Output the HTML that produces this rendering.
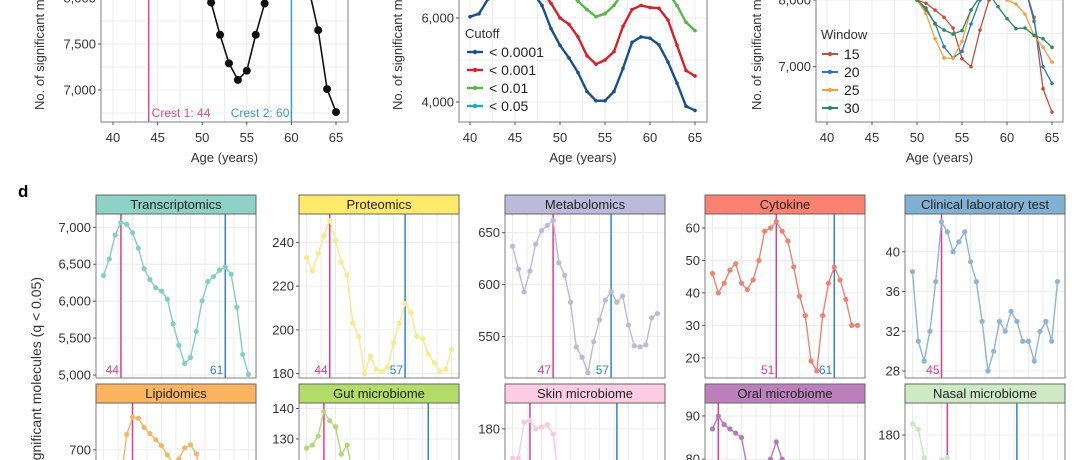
<!DOCTYPE html>
<html><head><meta charset="utf-8"><style>
html,body{margin:0;padding:0;background:#fff;width:1080px;height:460px;overflow:hidden;}
svg{display:block;font-family:"Liberation Sans",sans-serif;}
</style></head><body>
<svg id="fig" width="1080" height="460" viewBox="0 0 1080 460" xmlns="http://www.w3.org/2000/svg"></svg>
<script>
// ---------- data ----------
const ages = [40,41,42,43,44,45,46,47,48,49,50,51,52,53,54,55,56,57,58,59,60,61,62,63,64,65];
// panel a
const aValues = [8400,8380,8350,8300,8260,8230,8200,8150,8100,8070,8040,7950,7600,7290,7110,7210,7600,7940,8150,8300,8350,8250,8080,7650,7010,6760];
// panel b (cutoffs)
const bCutoffs = ['< 0.0001','< 0.001','< 0.01','< 0.05'];
const bS1 = [6030,6100,6450,6700,6800,6820,6750,6600,6300,5750,5350,5050,4700,4250,4030,4030,4250,4800,5420,5550,5520,5360,4950,4450,3900,3800];
const bS2 = [7000,7100,7300,7500,7400,7200,7000,6800,6650,6350,6000,5850,5550,5100,4900,5000,5200,5800,6200,6300,6250,6230,5950,5350,4750,4620];
const bS3 = [7800,7900,8000,8100,8000,7900,7700,7500,7200,7000,6800,6600,6400,6200,6030,6100,6300,6600,6900,7000,6900,6800,6600,6300,5900,5700];
const bS4 = [8800,8900,9000,9100,9000,8900,8700,8500,8200,8000,7800,7600,7400,7200,7000,7100,7300,7600,7900,8000,7900,7800,7600,7300,6900,6700];
// panel c (windows)
const cWindows = ['15','20','25','30'];
const cS1 = [8300,8300,8300,8300,8300,8250,8200,8150,8100,8050,8000,7950,7850,7740,7580,7120,7000,7550,8000,8200,8300,8300,8200,7740,6670,6320];
const cS2 = [8300,8300,8300,8300,8300,8250,8200,8150,8100,8050,8000,7850,7650,7300,7130,7230,7640,8000,8200,8300,8300,8300,8200,7680,7000,6750];
const cS3 = [8300,8300,8300,8300,8300,8250,8200,8150,8100,8050,8000,7800,7420,7130,7130,7380,7850,8050,8150,8100,8000,7940,7790,7470,7290,7070];
const cS4 = [8300,8300,8300,8300,8300,8250,8200,8150,8100,8050,8000,7880,7640,7550,7490,7540,7850,8050,8100,7900,7720,7570,7580,7470,7420,7290];
// panel d (omics)
const dNames = ['Transcriptomics','Proteomics','Metabolomics','Cytokine','Clinical laboratory test','Lipidomics','Gut microbiome','Skin microbiome','Oral microbiome','Nasal microbiome'];
const dTranscriptomics = [6347,6571,6895,7064,7041,6927,6717,6438,6292,6183,6137,6027,5694,5402,5155,5237,5589,6005,6265,6333,6420,6461,6365,5918,5279,5009];
const dProteomics = [233,227,235,243,250,241,231,225,203,197,180,188,182,181,183,194,203,212,208,197,196,189,185,181,182,191];
const dMetabolomics = [637,615,593,613,639,652,657,662,621,609,583,540,530,515,545,566,585,593,583,589,561,541,540,542,568,572];
const dCytokine = [46,40,43,47,49,43,41,44,50,59,60,62,59,56,48,39,33,19,16,33,43,48,44,38,30,30];
const dClinical = [38,31,29,32,37,43,42,40,41,42,39,37,33,28,30,33,32,34,33,31,31,29,32,33,31,37];
const dLipidomics = [600,610,630,640,730,764,762,744,732,720,708,690,674,682,704,710,692,640,620,610,600,605,610,600,590,595];
const dGut = [127,128,131,139,136,134,125,128,118,115,112,110,108,110,112,111,110,108,112,115,113,111,110,109,110,112];
const dSkin = [163,163,184,185,180,181,182.5,177,150,145,140,142,138,140,145,143,140,138,142,140,138,141,139,140,138,140];
const dOral = [87,90,88,87,86,85,78,76,75,77,80,84,80,76,74,73,72,74,75,73,72,71,72,73,72,71];
const dNasal = [186,183,168,160,158,167,168,150,145,140,142,138,140,139,141,140,138,139,140,141,139,140,138,139,140,138];
const dCrest1 = [43,44,47,51,45,45,43,43,41,46];
const dCrest1Label = ['44','44','47','51','45','','','','',''];
const dCrest2 = [61,57,57,61,null,null,61,58,null,58];
const dCrest2Label = ['61','57','57','61','','','','','',''];
const dYTicks = [[5000,5500,6000,6500,7000],[180,200,220,240],[550,600,650],[20,30,40,50,60],[28,32,36,40],[700],[130,140],[180],[80,90],[180]];
const xTicks = [40,45,50,55,60,65];

// ---------- helpers ----------
const NS='http://www.w3.org/2000/svg';
const svg=document.getElementById('fig');
function mk(tag,attrs,parent){const e=document.createElementNS(NS,tag);for(const k in attrs)e.setAttribute(k,attrs[k]);(parent||svg).appendChild(e);return e;}
function fmt(v){return v>=1000?v.toLocaleString('en-US'):String(v);}
let clipId=0;
function linScale(d0,d1,r0,r1){return v=>r0+(v-d0)*(r1-r0)/(d1-d0);}

function panel(p){
  const g=mk('g',{});
  
  
  const vb=p.vy1!==undefined?p.vy1:p.y1;
  const cid='c'+(clipId++);
  const cp=mk('clipPath',{id:cid},g);mk('rect',{x:p.x0,y:p.y0,width:p.x1-p.x0,height:vb-p.y0},cp);
  const plot=mk('g',{'clip-path':'url(#'+cid+')'},g);
  mk('rect',{x:p.x0,y:p.y0,width:p.x1-p.x0,height:vb-p.y0,fill:'#fff'},plot);
  p.xgrid.forEach(v=>{const x=p.sx(v);mk('line',{x1:x,x2:x,y1:p.y0,y2:vb,stroke:'#ececec','stroke-width':1},plot);});
  p.ygrid.forEach(v=>{const y=p.sy(v);mk('line',{x1:p.x0,x2:p.x1,y1:y,y2:y,stroke:'#ececec','stroke-width':1},plot);});
  return {g,plot};
}
function series(plot,xs,ys,sx,sy,color,r,w,name){
  const pts=xs.map((x,i)=>sx(x).toFixed(1)+','+sy(ys[i]).toFixed(1)).join(' ');
  const pl=mk('polyline',{points:pts,fill:'none',stroke:color,'stroke-width':w,'stroke-linejoin':'round'},plot);
  
  
  if(r>0)xs.forEach((x,i)=>{const c=mk('circle',{cx:sx(x),cy:sy(ys[i]),r:r,fill:color},plot);
    
    });
}
function frame(g,p){
  if(p.vy1!==undefined){
    mk('path',{d:'M'+p.x0+','+p.vy1+' V'+p.y0+' H'+p.x1+' V'+p.vy1,fill:'none',stroke:'#7f7f7f','stroke-width':1},g);
  } else mk('rect',{x:p.x0,y:p.y0,width:p.x1-p.x0,height:p.y1-p.y0,fill:'none',stroke:'#7f7f7f','stroke-width':1},g);
}
function yticks(g,p,ticks,fs){ticks.forEach(v=>{const y=p.sy(v);
  mk('line',{x1:p.x0-3,x2:p.x0,y1:y,y2:y,stroke:'#555'},g);
  const t=mk('text',{x:p.x0-5,y:y+4.5,'text-anchor':'end','font-size':fs,fill:'#333'},g);t.textContent=fmt(v);
  
  });}
function xticks(g,p,ticks){ticks.forEach(v=>{const x=p.sx(v);
  mk('line',{x1:x,x2:x,y1:p.y1,y2:p.y1+3,stroke:'#555'},g);
  const t=mk('text',{x:x,y:p.y1+20,'text-anchor':'middle','font-size':13,fill:'#333'},g);t.textContent=v;
  
  });}
function text(g,x,y,s,attrs,name){const t=mk('text',Object.assign({x:x,y:y},attrs),g);t.textContent=s;
  
  return t;}

// ---------- top panels ----------
function topPanel(cfg){
  const p={name:cfg.name,x0:cfg.x0,x1:cfg.x1,y0:0,y1:122,sx:linScale(40,65,cfg.x40,cfg.x65),sy:cfg.sy,xgrid:[40,45,50,55,60,65,42.5,47.5,52.5,57.5,62.5],ygrid:cfg.ygrid};
  const {g,plot}=panel(p);
  cfg.draw(plot,p);
  mk('path',{d:'M'+p.x0+',0 V'+p.y1+' H'+p.x1+' V0',fill:'none',stroke:'#7f7f7f','stroke-width':1},g);
  yticks(g,p,cfg.yt,13);xticks(g,p,xTicks);
  text(g,(p.x0+p.x1)/2,162,'Age (years)',{'text-anchor':'middle','font-size':13,fill:'#333'},'x-axis-title');
  text(g,0,0,'No. of significant molecules',{'font-size':13,fill:'#333',transform:'translate('+cfg.ylx+',110) rotate(-90)'},'y-axis-title');
  return {g,p};
}
// a
topPanel({name:'panel-a',x0:101,x1:348,x40:113,x65:336,sy:linScale(7000,7500,90,44),ygrid:[7000,7500,8000,6750,7250,7750],yt:[7000,7500,8000],ylx:44,
  draw:(plot,p)=>{
    const x1=p.sx(44),x2=p.sx(60);
    mk('line',{x1:x1,x2:x1,y1:p.y0,y2:p.y1,stroke:'#d94a8c','stroke-width':1.5},plot);
    mk('line',{x1:x2,x2:x2,y1:p.y0,y2:p.y1,stroke:'#3a9fbf','stroke-width':1.5},plot);
    text(plot,x1+3,p.y1-5,'Crest 1: 44',{'font-size':12,fill:'#d94a8c'},'crest-1-label');
    text(plot,x2-2,p.y1-5,'Crest 2: 60',{'font-size':12,fill:'#3a9fbf','text-anchor':'end'},'crest-2-label');
    series(plot,ages,aValues,p.sx,p.sy,'#111',4,1.6,'overall');
  }});
// b
const bColors=['#1b4f8a','#d9202a','#57b849','#1fa9bf'];
topPanel({name:'panel-b',x0:459,x1:707,x40:470,x65:695,sy:linScale(4000,6000,102,18),ygrid:[4000,6000,5000,3000,7000],yt:[4000,6000],ylx:402,
  draw:(plot,p)=>{
    [bS4,bS3,bS2,bS1].forEach((s,i)=>series(plot,ages,s,p.sx,p.sy,bColors[3-i],1.8,2.4,'cutoff-'+(3-i)));
    text(plot,465,38,'Cutoff',{'font-size':13,fill:'#333'},'legend-title');
    bCutoffs.forEach((c,i)=>{const y=52+i*18;
      mk('line',{x1:467,x2:483,y1:y,y2:y,stroke:bColors[i],'stroke-width':2.4},plot);
      mk('circle',{cx:475,cy:y,r:2.2,fill:bColors[i]},plot);
      text(plot,489,y+5,c,{'font-size':14,fill:'#222'},'legend-entry');});
  }});
// c
const cColors=['#c0503c','#2a7ab8','#f0a03c','#2e8a5a'];
topPanel({name:'panel-c',x0:816,x1:1063,x40:827,x65:1052,sy:linScale(7000,8000,66.7,0),ygrid:[7000,8000,7500,6500],yt:[7000,8000],ylx:761,
  draw:(plot,p)=>{
    [cS1,cS2,cS3,cS4].forEach((s,i)=>series(plot,ages,s,p.sx,p.sy,cColors[i],1.8,1.3,'window-'+cWindows[i]));
    text(plot,821,39,'Window',{'font-size':13,fill:'#333'},'legend-title');
    cWindows.forEach((c,i)=>{const y=54+i*18;
      mk('line',{x1:822,x2:838,y1:y,y2:y,stroke:cColors[i],'stroke-width':2},plot);
      mk('circle',{cx:830,cy:y,r:2.2,fill:cColors[i]},plot);
      text(plot,844,y+5,c,{'font-size':14,fill:'#222'},'legend-entry');});
  }});

// ---------- panel d ----------
text(svg,18,197,'d',{'font-size':17,'font-weight':'bold',fill:'#000'},'panel-d-label');
text(svg,0,0,'No. of significant molecules (q < 0.05)',{'font-size':14,fill:'#333','text-anchor':'end',transform:'translate(41,277) rotate(-90)'},'panel-d-y-axis-title');
const dData=[dTranscriptomics,dProteomics,dMetabolomics,dCytokine,dClinical,dLipidomics,dGut,dSkin,dOral,dNasal];
const dStrip=['#8ed1c6','#fde96a','#bcbadb','#fa806f','#80b1d3','#fbb45e','#b3dc68','#fbcce3','#bc81bc','#cdeac5'];
const dLine=['#86cfc0','#f7ec8a','#bdb9d8','#ef8273','#8fb5d2','#f3b665','#b5d978','#f6cbe0','#b37cb5','#cbe6c4'];
const dYDom=[[4960,7180],[178,253],[510,668],[13.8,64.3],[27.3,43.8],[470,792],[88,141.8],[100,195],[55,93],[110,197]];
const colX=[96,299,505,705,905];
dNames.forEach((nm,k)=>{
  const row=Math.floor(k/5),col=k%5;
  const x0=colX[col],x1=x0+160;
  const sTop=row?384:195,y0=sTop+19,y1=y0+164;
  const p={name:'panel-'+nm.toLowerCase().replace(/ /g,'-'),x0:x0,x1:x1,y0:y0,y1:y1,
    sx:linScale(38.7,66.3,x0,x1),sy:linScale(dYDom[k][0],dYDom[k][1],y1,y0),
    xgrid:[40,45,50,55,60,65,42.5,47.5,52.5,57.5,62.5],ygrid:dYTicks[k]};
  if(row) p.vy1=460;
  const vb=row?460:y1;
  const {g,plot}=panel(p);
  const c1=p.sx(dCrest1[k]);
  mk('line',{x1:c1,x2:c1,y1:y0,y2:vb,stroke:'#dd3d8a','stroke-width':1.5},plot);
  if(dCrest2[k]!==null){const c2=p.sx(dCrest2[k]);mk('line',{x1:c2,x2:c2,y1:y0,y2:vb,stroke:'#2f86c0','stroke-width':1.5},plot);
    if(dCrest2Label[k])text(plot,c2-2,y1-4,dCrest2Label[k],{'font-size':12,fill:'#2f86c0','text-anchor':'end'},'crest-2-label');}
  if(dCrest1Label[k])text(plot,c1-2,y1-4,dCrest1Label[k],{'font-size':12,fill:'#dd3d8a','text-anchor':'end'},'crest-1-label');
  series(plot,ages,dData[k],p.sx,p.sy,dLine[k],2.6,1.4,nm.toLowerCase().replace(/ /g,'-'));
  frame(g,p);
  yticks(g,p,dYTicks[k],13);
  const st=mk('rect',{x:x0,y:sTop,width:160,height:19,fill:dStrip[k],stroke:'#666','stroke-width':1},g);
  
  
  text(g,x0+80,sTop+14,nm,{'font-size':13,fill:'#222','text-anchor':'middle'},'strip-label');
});
</script>
</body></html>
